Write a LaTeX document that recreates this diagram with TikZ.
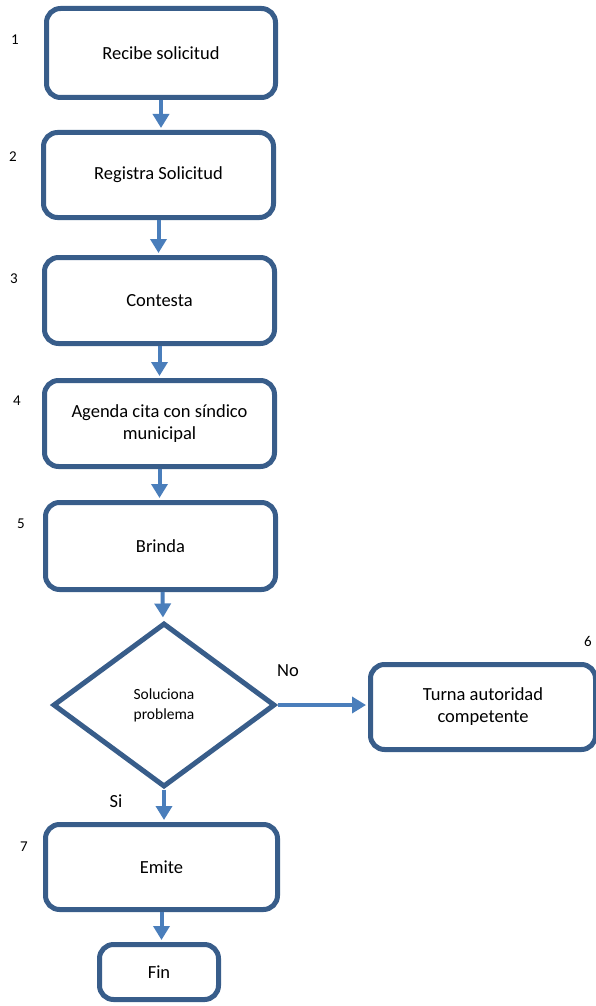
\documentclass[tikz,border=0pt]{standalone}
\usepackage{fontspec}
\setmainfont{Carlito}
\usetikzlibrary{positioning,arrows.meta,shapes.geometric,calc}
\definecolor{boxline}{RGB}{56,93,138}
\definecolor{flowline}{RGB}{74,126,187}

\begin{document}
\begin{tikzpicture}[x=1pt, y=-1pt,
    stepbox/.style={draw=boxline, line width=5pt, rounded corners=14pt, fill=white, inner sep=0pt, align=center, font=\fontsize{18.5}{22}\selectfont},
    decision/.style={draw=boxline, line width=5pt, diamond, fill=white, inner sep=0pt, align=center, font=\fontsize{15.5}{20}\selectfont},
    flow/.style={draw=flowline, line width=4pt, -{Triangle[length=14pt, width=16pt]}, shorten >=2pt},
    num/.style={font=\fontsize{15}{18}\selectfont},
    answer/.style={font=\fontsize{18.5}{22}\selectfont}]
\useasboundingbox (0,0) rectangle (595,1006);
% Process steps
\node[stepbox, minimum width=229pt, minimum height=89pt] (recibe) at (161,53) {Recibe solicitud};
\node[stepbox, minimum width=230pt, minimum height=85pt] (registra) at (158.5,175) {Registra Solicitud};
\node[stepbox, minimum width=230pt, minimum height=86pt] (contesta) at (159.5,300.5) {Contesta};
\node[stepbox, minimum width=230pt, minimum height=86pt] (agenda) at (159.5,423.5) {Agenda cita con síndico\\municipal};
\node[stepbox, minimum width=230pt, minimum height=87pt] (brinda) at (160.5,546) {Brinda};
\node[decision, minimum width=222pt, minimum height=164pt] (soluciona) at (164,705) {Soluciona\\problema};
\node[stepbox, minimum width=225pt, minimum height=85pt] (turna) at (483,707) {Turna autoridad\\competente};
\node[stepbox, minimum width=232pt, minimum height=85pt] (emite) at (161.5,867) {Emite};
\node[stepbox, minimum width=119pt, minimum height=55pt] (fin) at (159,972) {Fin};
% Step numbers
\node[num] (n1) at (15,40) {1};
\node[num] (n2) at (13,157) {2};
\node[num] (n3) at (14,279) {3};
\node[num] (n4) at (17,401) {4};
\node[num] (n5) at (21,524) {5};
\node[num] (n6) at (588,641) {6};
\node[num] (n7) at (24,847) {7};
% Connections
\draw[flow] (recibe.south) -- (recibe.south |- registra.north);
\draw[flow] (registra.south) -- (registra.south |- contesta.north);
\draw[flow] (contesta.south) -- (contesta.south |- agenda.north);
\draw[flow] (agenda.south) -- (agenda.south |- brinda.north);
\draw[flow] ($(brinda.south)+(2,0)$) -- ($(soluciona.north)+(-1,-1)$);
\draw[flow] (soluciona.east) -- (soluciona.east -| turna.west);
\draw[flow] (soluciona.south) -- (soluciona.south |- emite.north);
\draw[flow] (emite.south) -- (emite.south |- fin.north);
% Answers
\node[answer] (no) at (288,671) {No};
\node[answer] (si) at (116,801) {Si};
\end{tikzpicture}
\end{document}
